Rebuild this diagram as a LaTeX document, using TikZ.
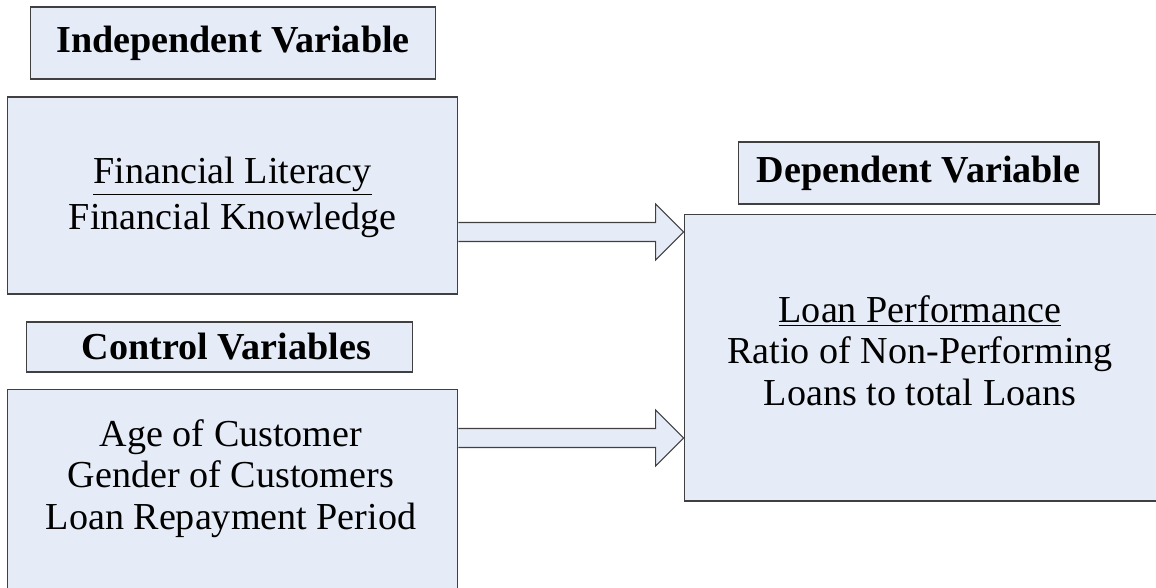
\documentclass[tikz,border=0pt]{standalone}
\usepackage{fontspec}
\setmainfont{Liberation Serif}
\usepackage{tikz}
\usetikzlibrary{calc}

\definecolor{boxfill}{RGB}{230,236,247}
\definecolor{boxline}{RGB}{64,64,64}

\begin{document}
\begin{tikzpicture}[x=0.02cm,y=-0.02cm,
  font=\fontsize{21.7}{23.7}\selectfont,
  var box/.style={draw=boxline,fill=boxfill,line width=0.6pt,inner sep=0pt},
  title box/.style={var box,font=\fontsize{21.7}{23.7}\selectfont\bfseries},
  flow arrow/.style={draw=boxline,fill=boxfill,line width=0.6pt,line join=miter}]

  \clip (0,0) rectangle (1156,588);

  % left column
  \node[title box,minimum width=8.12cm,minimum height=1.44cm] (indep) at (233,43) {Independent Variable};
  \node[var box,minimum width=9.02cm,minimum height=3.94cm] (fin) at (232.5,195.5) {};
  \node[align=center] (fintext) at (232.5,197.5)
    {\underline{Financial Literacy}\\[0.08cm]Financial Knowledge};
  \node[title box,minimum width=7.74cm,minimum height=1.0cm] (ctrltitle) at (219.5,347) {\hspace{0.28cm}Control Variables};
  \node[var box,minimum width=9.02cm,minimum height=4.8cm] (ctrl) at (232.5,509) {};
  \node[align=center] (ctrltext) at (231,478.5)
    {Age of Customer\\Gender of Customers\\Loan Repayment Period};

  % right column
  \node[title box,minimum width=7.22cm,minimum height=1.24cm] (dep) at (918.5,173) {Dependent Variable};
  \node[var box,minimum width=9.6cm,minimum height=5.74cm] (loan) at (924,357.5) {};
  \node[align=center] (loantext) at (920,350.5)
    {\underline{Loan Performance}\\Ratio of Non-Performing\\Loans to total Loans};

  % block arrows
  \coordinate (a1s) at (fin.east |- 0,232);
  \coordinate (a1e) at (loan.west |- a1s);
  \coordinate (a2s) at (ctrl.east |- 0,438);
  \coordinate (a2e) at (loan.west |- a2s);
  \foreach \s/\e in {a1s/a1e,a2s/a2e}
    \draw[flow arrow] ($(\s)+(0,-9.5)$) -- ($(\e)+(-28,-9.5)$) -- ($(\e)+(-28,-28)$)
      -- (\e) -- ($(\e)+(-28,28)$) -- ($(\e)+(-28,9.5)$) -- ($(\s)+(0,9.5)$);
\end{tikzpicture}
\end{document}
